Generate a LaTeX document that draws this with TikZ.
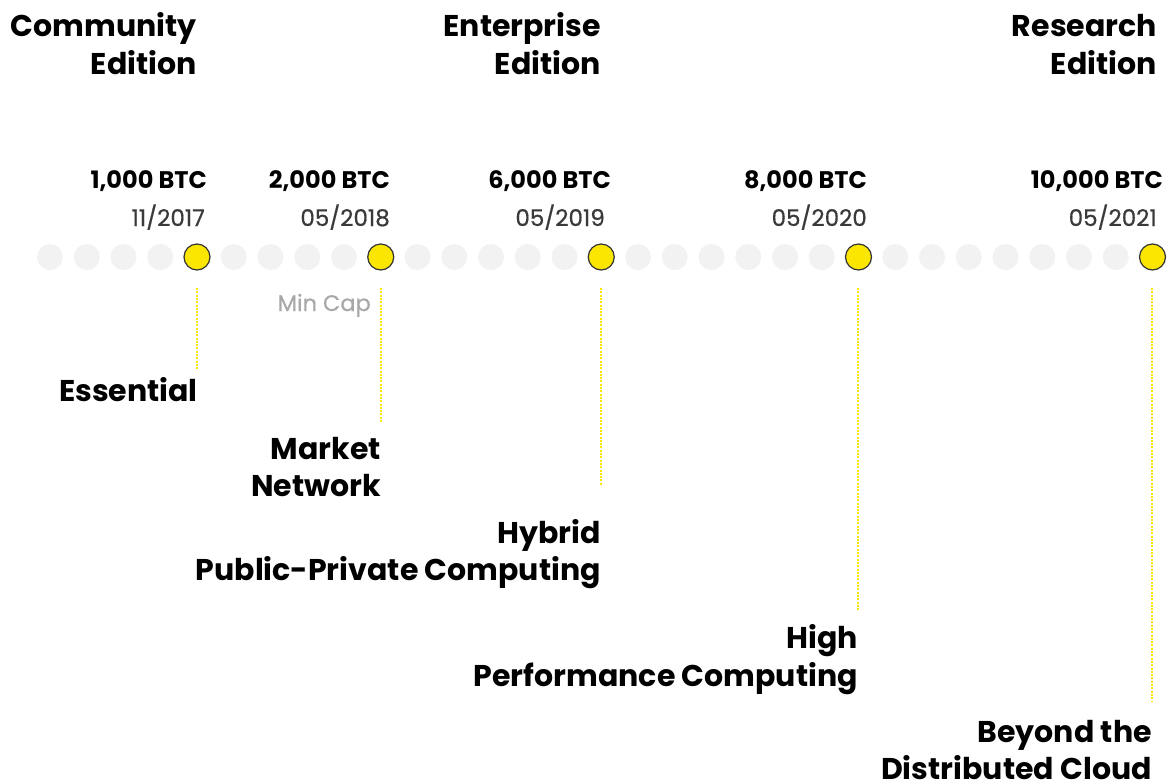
\documentclass[tikz,border=0pt]{standalone}
\usepackage{fontspec}
\setmainfont{Poppins}
\definecolor{dotgrey}{HTML}{F2F2F2}
\definecolor{ylw}{HTML}{FAE600}
\definecolor{edge}{HTML}{333333}
\definecolor{datec}{HTML}{3A3A3A}
\definecolor{minc}{HTML}{A8A8A8}
\tikzset{
  greydot/.style={circle,fill=dotgrey,minimum size=26pt,inner sep=0pt},
  keydot/.style={circle,fill=ylw,draw=edge,line width=1.2pt,minimum size=26pt,inner sep=0pt},
  bigtxt/.style={anchor=base east,inner sep=0pt,font=\fontsize{30}{36}\selectfont\bfseries,text=black},
  btctxt/.style={anchor=base east,inner sep=0pt,font=\fontsize{24}{28}\selectfont\bfseries,text=black},
  datetxt/.style={anchor=base east,inner sep=0pt,font=\fontsize{23}{27}\selectfont\addfontfeature{FakeBold=0.6},text=datec},
  mintxt/.style={anchor=base east,inner sep=0pt,font=\fontsize{22.5}{27}\selectfont\addfontfeature{FakeBold=0.6},text=minc},
  leader/.style={draw=ylw,line width=2pt,dash pattern=on 2pt off 1.3pt}
}
\begin{document}
\begin{tikzpicture}[x=1pt,y=-1pt]
\useasboundingbox[fill=white] (0,0) rectangle (1171,780);
% grey dots
\foreach \i in {0,...,30} {
  \node[greydot] (g\i) at ({50+36.75*\i},257) {};
}
% key dots
\node[keydot] (k1) at ({50+36.75*4},257) {};
\node[keydot] (k2) at ({50+36.75*9},257) {};
\node[keydot] (k3) at ({50+36.75*15},257) {};
\node[keydot] (k4) at ({50+36.75*22},257) {};
\node[keydot] (k5) at ({50+36.75*30},257) {};
% titles
\node[bigtxt] (ce1) at (197,36) {Community};
\node[bigtxt] (ce2) at (197,74) {Edition};
\node[bigtxt] (ee1) at (601,36) {Enterprise};
\node[bigtxt] (ee2) at (601,74) {Edition};
\node[bigtxt] (re1) at (1157,36) {Research};
\node[bigtxt] (re2) at (1157,74) {Edition};
% amounts
\node[btctxt] (b1) at (207,188) {1,000 BTC};
\node[btctxt] (b2) at (390,188) {2,000 BTC};
\node[btctxt] (b3) at (611,188) {6,000 BTC};
\node[btctxt] (b4) at (867,188) {8,000 BTC};
\node[btctxt] (b5) at (1163,188) {10,000 BTC};
% dates
\node[datetxt] (d1) at (205,226) {11/2017};
\node[datetxt] (d2) at (390,226) {05/2018};
\node[datetxt] (d3) at (605,226) {05/2019};
\node[datetxt] (d4) at (867,226) {05/2020};
\node[datetxt] (d5) at (1157,226) {05/2021};
\node[mintxt] (mc) at (371,311) {Min Cap};
% leaders
\coordinate (s1) at (197,288); \coordinate (e1) at (197,370);
\coordinate (s2) at (381,288); \coordinate (e2) at (381,423);
\coordinate (s3) at (601,288); \coordinate (e3) at (601,486);
\coordinate (s4) at (858,288); \coordinate (e4) at (858,610);
\coordinate (s5) at (1152,288); \coordinate (e5) at (1152,702);
\draw[leader] (s1) -- (e1);
\draw[leader] (s2) -- (e2);
\draw[leader] (s3) -- (e3);
\draw[leader] (s4) -- (e4);
\draw[leader] (s5) -- (e5);
% milestone labels
\node[bigtxt] (m1) at (198,401) {Essential};
\node[bigtxt] (m2a) at (381,459) {Market};
\node[bigtxt] (m2b) at (381,496) {Network};
\node[bigtxt] (m3a) at (601,543) {Hybrid};
\node[bigtxt] (m3b) at (601,580) {Public-Private Computing};
\node[bigtxt] (m4a) at (858,648) {High};
\node[bigtxt] (m4b) at (858,686) {Performance Computing};
\node[bigtxt] (m5a) at (1152,742) {Beyond the};
\node[bigtxt] (m5b) at (1152,779) {Distributed Cloud};
\end{tikzpicture}
\end{document}
